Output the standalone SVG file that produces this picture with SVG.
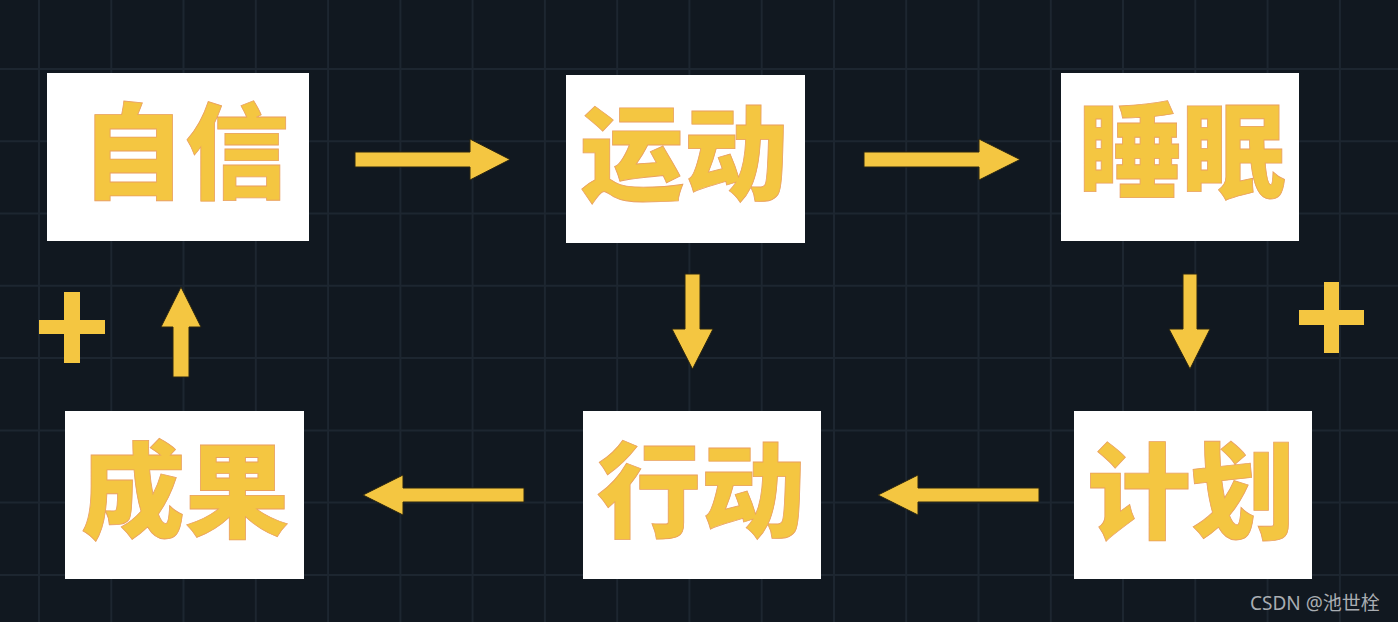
<svg xmlns="http://www.w3.org/2000/svg" width="1398" height="622" viewBox="0 0 1398 622">
<style>
.bg{fill:#111820}
.grid{stroke:#1d2630;stroke-width:2;fill:none}
.box{fill:#ffffff}
.lbl{font-family:"Noto Sans CJK SC","Noto Sans CJK JP",sans-serif;font-weight:900;font-size:104px;fill:#f4c641;stroke:#eaa060;stroke-width:0.8;text-anchor:middle}
.arr{fill:#f4c641;stroke:#2a2410;stroke-width:1}
.plus{fill:#f4c641}
.wm{font-family:"Noto Sans","Noto Sans CJK SC",sans-serif;font-size:19px;fill:#a9adb2}
</style>
<rect class="bg" x="0" y="0" width="1398" height="622"/>
<g id="grid">
<path class="grid" d="M39,0V622M111.3,0V622M183.5,0V622M255.8,0V622M328.1,0V622M400.4,0V622M472.6,0V622M544.9,0V622M617.2,0V622M689.4,0V622M761.7,0V622M834,0V622M906.2,0V622M978.5,0V622M1050.8,0V622M1123,0V622M1195.3,0V622M1267.6,0V622M1339.9,0V622M0,69H1398M0,141.3H1398M0,213.5H1398M0,285.8H1398M0,358.1H1398M0,430.4H1398M0,502.6H1398M0,574.9H1398"/>
</g>
<g id="node-zixin">
<rect class="box" x="47" y="73" width="262" height="168"/>
<text class="lbl" x="185" y="190.5">自信</text>
</g>
<g id="node-yundong">
<rect class="box" x="566" y="75" width="239" height="168"/>
<text class="lbl" x="684" y="192.5">运动</text>
</g>
<g id="node-shuimian">
<rect class="box" x="1061" y="73" width="238" height="168"/>
<text class="lbl" x="1182" y="189.5">睡眠</text>
</g>
<g id="node-chengguo">
<rect class="box" x="65" y="411" width="239" height="168"/>
<text class="lbl" x="185" y="529.5">成果</text>
</g>
<g id="node-xingdong">
<rect class="box" x="583" y="411" width="238" height="168"/>
<text class="lbl" x="701" y="529.5">行动</text>
</g>
<g id="node-jihua">
<rect class="box" x="1074" y="411" width="238" height="168"/>
<text class="lbl" x="1191" y="530.5">计划</text>
</g>
<g id="connectors">
<polygon class="arr" points="355,152 470,152 470,139 510,159.5 470,180 470,167 355,167"/>
<polygon class="arr" points="864,152 979,152 979,139 1020,159.5 979,180 979,167 864,167"/>
<polygon class="arr" points="685,274 700,274 700,329 713,329 692.5,369 672,329 685,329"/>
<polygon class="arr" points="1183,274 1197,274 1197,329 1210,329 1190,369 1169,329 1183,329"/>
<polygon class="arr" points="1039,488 918,488 918,475 878,495 918,515 918,502 1039,502"/>
<polygon class="arr" points="524,488 403,488 403,475 363,495 403,515 403,502 524,502"/>
<polygon class="arr" points="173,377 173,327 161,327 181,287 201,327 189,327 189,377"/>
</g>
<g id="plus-left">
<path class="plus" d="M64,292H80V320H105V334H80V363H64V334H39V320H64Z"/>
</g>
<g id="plus-right">
<path class="plus" d="M1324,282H1339V310H1364V325H1339V353H1324V325H1299V310H1324Z"/>
</g>
<text class="wm" x="1250" y="610">CSDN @池世栓</text>
</svg>
